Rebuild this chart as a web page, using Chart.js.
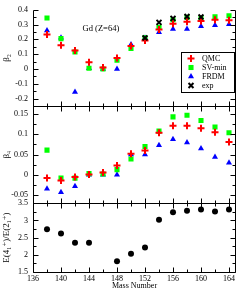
<!DOCTYPE html>
<html>
<head>
<meta charset="utf-8">
<script src="https://cdn.jsdelivr.net/npm/chart.js@4/dist/chart.umd.min.js"></script>
<style>
  html, body { margin: 0; padding: 0; background: #fff; }
</style>
</head>
<body>
<canvas id="zoneChart" width="242" height="291"></canvas>
<script>
/* Données */
const masses = [138, 140, 142, 144, 146, 148, 150, 152, 154, 156, 158, 160, 162, 164]

const qmcB2 = [0.233, 0.16, 0.125, 0.045, 0.01, 0.075, 0.155, 0.193, 0.267, 0.305, 0.32, 0.325, 0.332, 0.33]
const svminB2 = [0.345, 0.205, 0.115, 0.005, 0.0, 0.06, 0.138, 0.21, 0.282, 0.333, 0.349, 0.345, 0.352, 0.36]
const frdmB2 = [0.26, 0.211, -0.155, 0.005, 0.0, 0.0, 0.165, 0.21, 0.249, 0.271, 0.271, 0.288, 0.295, 0.302]

const expMasses = [152, 154, 156, 158, 160]
const expB2 = [0.21, 0.315, 0.342, 0.355, 0.352]

const qmcB4 = [-0.008, -0.014, -0.005, 0.001, 0.006, 0.023, 0.052, 0.06, 0.104, 0.121, 0.121, 0.115, 0.105, 0.081]
const svminB4 = [0.061, -0.008, -0.008, 0.003, 0.002, 0.013, 0.039, 0.07, 0.108, 0.143, 0.147, 0.134, 0.118, 0.104]
const frdmB4 = [-0.034, -0.043, -0.028, 0.0, 0.0, 0.0, 0.05, 0.05, 0.073, 0.088, 0.08, 0.065, 0.044, 0.03]

const ratioMasses = [138, 140, 142, 144, 148, 150, 152, 154, 156, 158, 160, 162, 164]
const ratioE = [2.74, 2.62, 2.35, 2.35, 1.81, 2.03, 2.21, 3.02, 3.24, 3.28, 3.32, 3.26, 3.32]

/* Graduations */
const xTicks = [136, 140, 144, 148, 152, 156, 160, 164]
const b2Ticks = [-0.2, -0.1, 0, 0.1, 0.2, 0.3, 0.4]
const b4Ticks = [-0.05, 0, 0.05, 0.1, 0.15]
const ratioTicks = [1.5, 2, 2.5, 3, 3.5]

const legendLabels = ['QMC', 'SV-min', 'FRDM', 'exp']

const serif = "'Liberation Serif', 'DejaVu Serif', serif"
const pts = (xs, ys) => xs.map((x, i) => ({ x: x, y: ys[i] }))
const setTicks = list => scale => { scale.ticks = list.map(v => ({ value: v })) }

/* Cadres + graduations vers l'intérieur, façon xmgrace */
const panels = [
  { id: 'y', minor: 0.05, top: false },
  { id: 'y2', minor: 0.025, top: true },
  { id: 'y3', minor: 0.25, top: true },
]
const framePlugin = {
  id: 'frames',
  afterDatasetsDraw(chart) {
    const ctx = chart.ctx
    const sx = chart.scales.x
    const L = Math.round(chart.chartArea.left) + 0.5
    const R = Math.round(chart.chartArea.right) - 0.5
    ctx.save()
    ctx.strokeStyle = '#000'
    ctx.lineWidth = 1
    ctx.beginPath()
    panels.forEach(p => {
      const s = chart.scales[p.id]
      const T = Math.round(s.top) + 0.5
      const B = Math.round(s.bottom) + 0.5
      if (p.top) { ctx.moveTo(L, T); ctx.lineTo(R, T) }
      ctx.moveTo(L, T); ctx.lineTo(L, B); ctx.lineTo(R, B); ctx.lineTo(R, T)
      // graduations x
      for (let m = sx.min; m <= sx.max; m += 2) {
        const px = Math.round(sx.getPixelForValue(m)) + 0.5
        const len = (m % 4 === 0) ? 5 : 3
        ctx.moveTo(px, B); ctx.lineTo(px, B - len)
        if (p.top) { ctx.moveTo(px, T); ctx.lineTo(px, T + len) }
      }
      // graduations y
      const start = Math.ceil(s.min / p.minor - 1e-6)
      for (let k = start; k * p.minor <= s.max + 1e-9; k++) {
        const py = Math.round(s.getPixelForValue(k * p.minor)) + 0.5
        const len = (Math.abs(k % 2) === 0) ? 5 : 3
        ctx.moveTo(L, py); ctx.lineTo(L + len, py)
        ctx.moveTo(R, py); ctx.lineTo(R - len, py)
      }
    })
    ctx.stroke()
    ctx.restore()
  },
  afterDraw(chart) {
    const ctx = chart.ctx
    const sx = chart.scales.x
    const sy = chart.scales.y
    ctx.save()
    ctx.fillStyle = '#000'
    ctx.font = '8.5px ' + serif
    ctx.textAlign = 'center'
    ctx.textBaseline = 'middle'
    ctx.fillText('Gd (Z=64)', sx.getPixelForValue(145.7), sy.getPixelForValue(0.274))

    // légende
    const right = chart.chartArea.right - 1.5
    const left = 181.5, top = 52.5, bottom = 92.5
    ctx.fillStyle = '#fff'
    ctx.fillRect(left, top, right - left, bottom - top)
    ctx.strokeStyle = '#000'
    ctx.lineWidth = 1
    ctx.strokeRect(left, top, right - left, bottom - top)
    ctx.textAlign = 'left'
    ctx.font = '8px ' + serif
    legendLabels.forEach((label, i) => {
      const ds = chart.data.datasets.find(d => d.label === label)
      const y = 58.5 + i * 9
      ctx.fillStyle = ds.backgroundColor
      ctx.strokeStyle = ds.borderColor
      ctx.lineWidth = ds.borderWidth
      Chart.helpers.drawPoint(ctx, { pointStyle: ds.pointStyle, radius: ds.pointRadius, borderWidth: ds.borderWidth, rotation: 0 }, 191, y)
      ctx.fillStyle = '#000'
      ctx.fillText(label, 202, y)
    })
    ctx.restore()
  }
}

const tickFont = { family: serif, size: 8 }
const yScale = (min, max, weight, list, title) => ({
  type: 'linear',
  position: 'left',
  stack: 'gd',
  stackWeight: weight,
  min: min,
  max: max,
  grid: { display: false, drawTicks: false },
  border: { display: false },
  afterBuildTicks: setTicks(list),
  afterFit: s => { s.width = 33 },
  ticks: { font: tickFont, color: '#000', padding: 5, autoSkip: false, callback: v => String(v) },
  title: { display: true, text: title, font: { family: serif, size: 9 }, color: '#000', padding: 1 },
})

window.simChart = new Chart(document.querySelector('#zoneChart'), {
  type: 'scatter',
  data: {
    datasets: [
      { label: 'exp', data: pts(expMasses, expB2), yAxisID: 'y', pointStyle: 'crossRot', pointRadius: 3.5, borderWidth: 2, borderColor: '#000', backgroundColor: '#000' },
      { label: 'QMC', data: pts(masses, qmcB2), yAxisID: 'y', pointStyle: 'cross', pointRadius: 3.5, borderWidth: 2, borderColor: '#ff0000', backgroundColor: '#ff0000' },
      { label: 'SV-min', data: pts(masses, svminB2), yAxisID: 'y', pointStyle: 'rect', pointRadius: 3.6, borderWidth: 0, borderColor: '#00ff00', backgroundColor: '#00ff00' },
      { label: 'FRDM', data: pts(masses, frdmB2), yAxisID: 'y', pointStyle: 'triangle', pointRadius: 3.5, borderWidth: 0, borderColor: '#0000ff', backgroundColor: '#0000ff' },
      { label: 'QMC b4', data: pts(masses, qmcB4), yAxisID: 'y2', pointStyle: 'cross', pointRadius: 3.5, borderWidth: 2, borderColor: '#ff0000', backgroundColor: '#ff0000' },
      { label: 'SV-min b4', data: pts(masses, svminB4), yAxisID: 'y2', pointStyle: 'rect', pointRadius: 3.6, borderWidth: 0, borderColor: '#00ff00', backgroundColor: '#00ff00' },
      { label: 'FRDM b4', data: pts(masses, frdmB4), yAxisID: 'y2', pointStyle: 'triangle', pointRadius: 3.5, borderWidth: 0, borderColor: '#0000ff', backgroundColor: '#0000ff' },
      { label: 'ratio', data: pts(ratioMasses, ratioE), yAxisID: 'y3', pointStyle: 'circle', pointRadius: 3, borderWidth: 0, borderColor: '#000', backgroundColor: '#000' },
    ]
  },
  options: {
    responsive: false,
    animation: false,
    devicePixelRatio: 1,
    layout: { padding: { top: 4, right: 0.5, left: 0, bottom: 0 } },
    plugins: { legend: { display: false }, tooltip: { enabled: false } },
    scales: {
      x: {
        type: 'linear', min: 136, max: 165,
        grid: { display: false, drawTicks: false },
        border: { display: false },
        afterBuildTicks: setTicks(xTicks),
        afterFit: s => { s.height = 19 },
        ticks: { font: tickFont, color: '#000', padding: 2, maxRotation: 0, autoSkip: false },
        title: { display: true, text: 'Mass Number', font: tickFont, color: '#000', padding: 0 },
      },
      y3: yScale(1.5, 3.5, 70.3, ratioTicks, 'E(4₁⁺)/E(2₁⁺)'),
      y2: yScale(-0.07, 0.17, 99.4, b4Ticks, 'β₄'),
      y: yScale(-0.25, 0.4, 98.3, b2Ticks, 'β₂'),
    }
  },
  plugins: [framePlugin]
})
</script>
</body>
</html>
